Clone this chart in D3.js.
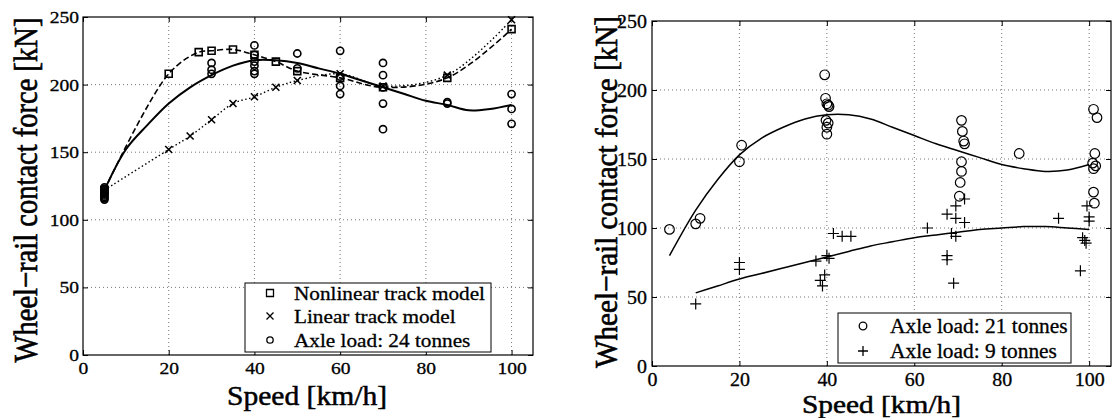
<!DOCTYPE html>
<html>
<head>
<meta charset="utf-8">
<script src="https://cdn.jsdelivr.net/npm/d3@7"></script>
<style>
  body { margin: 0; background: #fff; }
  svg text { font-family: "Liberation Serif", "Times New Roman", serif; fill: #000; stroke: #000; stroke-width: 0.3px; }
  svg text.title { stroke-width: 0.5px; }
</style>
</head>
<body>
<svg width="1113" height="418"></svg>
<script>
// ---- left panel: track model comparison, 24 t axle load ----
const speedNonlinear = [5, 20, 27, 30, 35, 40, 45, 50, 60, 70, 85, 100]
const forceNonlinear = [122, 208, 224, 225, 226, 222, 217, 210, 205, 198, 205, 241]

const speedLinear = [5, 20, 25, 30, 35, 40, 45, 50, 60, 70, 85, 100]
const forceLinear = [122, 152, 162, 174, 186, 191, 198, 203, 208, 199, 207, 248]

const speed24 = [5, 5, 5, 5, 5, 5, 5, 5, 5, 5, 30, 30, 30, 40, 40, 40, 40, 40, 40, 50, 50,
  60, 60, 60, 60, 70, 70, 70, 70, 70, 85, 85, 100, 100, 100]
const force24 = [115, 116, 117, 118, 119, 120, 121, 122, 123, 124, 208, 211, 216, 208, 210, 214, 217, 222, 229, 223, 212,
  225, 206, 199, 193, 216, 207, 198, 186, 167, 186, 187, 193, 182, 171]

const fitSpeed24 = [5, 10, 15, 20, 25, 30, 35, 40, 45, 50, 55, 60, 65, 70, 75, 80, 85, 90, 95, 100]
const fitForce24 = [122, 152, 170, 186, 198, 207, 214, 218, 218, 216, 212, 208, 203, 198, 193, 188, 185, 181, 182, 185]

// ---- right panel: 21 t vs 9 t axle load ----
const speed21 = [4, 10, 11, 20, 20.5, 39.5, 39.7, 40, 40.3, 40.5, 39.8, 40.3, 40, 40,
  70.8, 71, 71.3, 71.5, 70.8, 70.8, 70.5, 70.3, 84, 101, 101.8, 101.3, 100.8, 101.5, 101, 101, 101.2]
const force21 = [99, 103, 107, 148, 160, 211, 194, 190, 189, 188, 178, 176, 173, 168,
  178, 170, 163, 161, 148, 141, 133, 123, 154, 186, 180, 154, 147, 145, 143, 126, 118]

const speed9 = [10, 20, 20, 37.5, 38.5, 39, 39.5, 40, 40.5, 41.5, 43.5, 45.5, 63, 67.5, 69.5, 71.5,
  69.5, 71.5, 68.5, 69.5, 67.5, 67.5, 69, 93, 98, 98.5, 99.3, 99, 100, 100, 99.5]
const force9 = [45, 75, 70, 76, 62, 58, 66, 80, 78, 96, 94, 94, 100, 110, 116, 121,
  107, 104, 96, 94, 80, 77, 60, 107, 69, 93, 89, 91, 108, 105, 116]

const fitSpeed21 = [4, 10, 15, 20, 25, 30, 35, 40, 45, 50, 55, 60, 65, 70, 75, 80, 85, 90, 95, 100]
const fitForce21 = [80, 113, 135, 153, 165, 173, 179, 182, 182, 179, 173, 167, 161, 156, 151, 146, 143, 141, 142, 146]

const fitSpeed9 = [10, 15, 20, 25, 30, 35, 40, 45, 50, 55, 60, 65, 70, 75, 80, 85, 90, 95, 100]
const fitForce9 = [53, 58, 63, 67, 71, 75, 79, 83, 87, 90, 93, 95, 97, 99, 100, 101, 101, 100, 99]

const xTicks = [0, 20, 40, 60, 80, 100]
const yTicks = [0, 50, 100, 150, 200, 250]
const xTitle = "Speed [km/h]"
const yTitle = "Wheel\u2212rail contact force [kN]"

const svg = d3.select("svg")

const zip = (xs, ys) => xs.map((x, i) => [x, ys[i]])

// stretch a text element sideways around its anchor
function stretch(sel, sx, sy) {
  sel.each(function () {
    const t = d3.select(this)
    const x = +t.attr("x") || 0
    const y = +t.attr("y") || 0
    t.attr("x", 0).attr("y", 0)
      .attr("transform", `translate(${x},${y}) scale(${sx},${sy || 1})`)
  })
}

function panel(p) {
  const x = d3.scaleLinear().domain([0, 105]).range([p.left, p.right])
  const y = d3.scaleLinear().domain([0, 250]).range([p.bottom, p.top])
  const g = svg.append("g")

  // dotted grid
  g.append("g").selectAll("line")
    .data(xTicks.slice(1))
    .join("line")
    .attr("x1", d => x(d)).attr("x2", d => x(d))
    .attr("y1", p.bottom).attr("y2", p.top)
    .attr("stroke", "#777").attr("stroke-dasharray", "1,3")
  g.append("g").selectAll("line")
    .data(yTicks.slice(1, -1))
    .join("line")
    .attr("y1", d => y(d)).attr("y2", d => y(d))
    .attr("x1", p.left).attr("x2", p.right)
    .attr("stroke", "#777").attr("stroke-dasharray", "1,3")

  const axes = [
    [d3.axisBottom(x), `translate(0,${p.bottom})`, true],
    [d3.axisLeft(y), `translate(${p.left},0)`, true],
    [d3.axisTop(x), `translate(0,${p.top})`, false],
    [d3.axisRight(y), `translate(${p.right},0)`, false]
  ]
  axes.forEach(([ax, tr, labelled], i) => {
    ax.tickValues(i % 2 ? yTicks : xTicks).tickSizeInner(-5).tickSizeOuter(0)
      .tickPadding(i === 0 ? p.padX : p.padY)
    if (!labelled) ax.tickFormat("")
    const a = g.append("g").attr("transform", tr).call(ax)
      .attr("font-family", null).attr("font-size", null)
    a.select(".domain").remove()
    a.selectAll("text").style("font-size", p.tickFont + "px")
    stretch(a.selectAll("text"), p.tickStretch)
  })

  g.append("rect")
    .attr("x", p.left).attr("y", p.top)
    .attr("width", p.right - p.left).attr("height", p.bottom - p.top)
    .attr("fill", "none").attr("stroke", "#000").attr("stroke-width", 1.2)

  g.append("text")
    .attr("class", "title")
    .attr("x", (p.left + p.right) / 2 + p.xTitleShift).attr("y", p.xTitleY)
    .attr("text-anchor", "middle")
    .attr("textLength", p.xTitleLen).attr("lengthAdjust", "spacingAndGlyphs")
    .style("font-size", p.titleFont + "px")
    .text(xTitle)

  g.append("text")
    .attr("class", "title")
    .attr("transform", `translate(${p.yTitleX},${p.yTitleY}) rotate(-90) scale(1,${p.yTitleThick})`)
    .attr("text-anchor", "middle")
    .attr("textLength", p.yTitleLen).attr("lengthAdjust", "spacingAndGlyphs")
    .style("font-size", p.titleFont + "px")
    .text(yTitle)

  return { g, x, y }
}

function markerPath(type, cx, cy, s) {
  if (type === "square") return `M${cx - s},${cy - s}h${2 * s}v${2 * s}h${-2 * s}Z`
  if (type === "times") return `M${cx - s},${cy - s}L${cx + s},${cy + s}M${cx - s},${cy + s}L${cx + s},${cy - s}`
  return `M${cx - s},${cy}H${cx + s}M${cx},${cy - s}V${cy + s}`
}

function markers(pp, pts, type, size, width) {
  const sel = pp.g.append("g")
  if (type === "circle") {
    sel.selectAll("circle").data(pts).join("circle")
      .attr("cx", d => pp.x(d[0])).attr("cy", d => pp.y(d[1])).attr("r", size)
      .attr("fill", "none").attr("stroke", "#000").attr("stroke-width", width)
  } else {
    sel.selectAll("path").data(pts).join("path")
      .attr("d", d => markerPath(type, pp.x(d[0]), pp.y(d[1]), size))
      .attr("fill", "none").attr("stroke", "#000").attr("stroke-width", width)
  }
}

function curve(pp, pts, width, dash) {
  const line = d3.line().x(d => pp.x(d[0])).y(d => pp.y(d[1])).curve(d3.curveCatmullRom.alpha(0.5))
  pp.g.append("path").datum(pts).attr("d", line)
    .attr("fill", "none").attr("stroke", "#000").attr("stroke-width", width)
    .attr("stroke-dasharray", dash || null)
}

function legend(pp, box, rows, font, sx) {
  const lg = pp.g.append("g")
  lg.append("rect").attr("x", box[0]).attr("y", box[1]).attr("width", box[2]).attr("height", box[3])
    .attr("fill", "#fff").attr("stroke", "#000").attr("stroke-width", 1)
  rows.forEach((r, i) => {
    const cy = box[1] + r.dy
    const mx = box[0] + r.mx
    if (r.type === "circle") {
      lg.append("circle").attr("cx", mx).attr("cy", cy).attr("r", r.size)
        .attr("fill", "none").attr("stroke", "#000").attr("stroke-width", 1.3)
    } else {
      lg.append("path").attr("d", markerPath(r.type, mx, cy, r.size))
        .attr("fill", "none").attr("stroke", "#000").attr("stroke-width", 1.3)
    }
    const t = lg.append("text").attr("x", box[0] + r.tx).attr("y", cy + 7)
      .style("font-size", font + "px").text(r.label)
    stretch(t, sx)
  })
}

// ---- left ----
const L = panel({
  left: 83, right: 533, top: 17, bottom: 355,
  padX: 7, padY: 4, tickFont: 17, tickStretch: 1.15,
  titleFont: 27, xTitleY: 405, xTitleLen: 160, xTitleShift: -1,
  yTitleX: 37, yTitleY: 190, yTitleLen: 345, yTitleThick: 1.25
})
curve(L, zip(speedNonlinear, forceNonlinear), 1.6, "6,3")
curve(L, zip(speedLinear, forceLinear), 1.4, "1.5,2.5")
curve(L, zip(fitSpeed24, fitForce24), 2)
markers(L, zip(speedNonlinear, forceNonlinear), "square", 3.5, 1.6)
markers(L, zip(speedLinear, forceLinear), "times", 3.5, 1.6)
markers(L, zip(speed24, force24), "circle", 3.6, 1.6)
legend(L, [245, 283, 246, 69], [
  { type: "square", size: 3.5, mx: 25, dy: 10, tx: 49, label: "Nonlinear track model" },
  { type: "times", size: 3.5, mx: 25, dy: 33, tx: 49, label: "Linear track model" },
  { type: "circle", size: 3.2, mx: 25, dy: 57, tx: 49, label: "Axle load: 24 tonnes" }
], 19.5, 1.09)

// ---- right ----
const R = panel({
  left: 652, right: 1111, top: 21, bottom: 366,
  padX: 6, padY: 5, tickFont: 19, tickStretch: 1.05,
  titleFont: 26, xTitleY: 413, xTitleLen: 159, xTitleShift: 0,
  yTitleX: 617, yTitleY: 192, yTitleLen: 352, yTitleThick: 1.25
})
curve(R, zip(fitSpeed21, fitForce21), 1.5)
curve(R, zip(fitSpeed9, fitForce9), 1.5)
markers(R, zip(speed21, force21), "circle", 4.8, 1.2)
markers(R, zip(speed9, force9), "plus", 5.5, 1.2)
legend(R, [838, 313, 233, 50], [
  { type: "circle", size: 3.8, mx: 25, dy: 13, tx: 52, label: "Axle load: 21 tonnes" },
  { type: "plus", size: 5, mx: 25, dy: 38, tx: 52, label: "Axle load: 9 tonnes" }
], 20, 1.07)
</script>
</body>
</html>
